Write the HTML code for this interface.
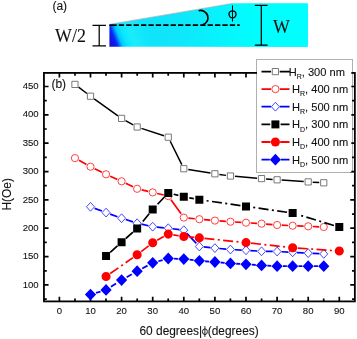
<!DOCTYPE html>
<html><head><meta charset="utf-8"><title>fig</title>
<style>
html,body{margin:0;padding:0;background:#fff;}
body{width:357px;height:339px;position:relative;overflow:hidden;font-family:"Liberation Sans",sans-serif;color:#111;}
</style></head><body>
<svg width="357" height="339" viewBox="0 0 357 339" style="position:absolute;left:0;top:0;will-change:transform">
<defs><linearGradient id="cg" gradientUnits="userSpaceOnUse" x1="108.8" y1="46.8" x2="145.9" y2="31.8"><stop offset="0" stop-color="#1c10d0"/><stop offset="0.12" stop-color="#1414e0"/><stop offset="0.21" stop-color="#0828f8"/><stop offset="0.27" stop-color="#0078ff"/><stop offset="0.33" stop-color="#00c8ff"/><stop offset="0.45" stop-color="#08e8ff"/><stop offset="0.62" stop-color="#1cecfc"/><stop offset="1" stop-color="#10e4fa"/></linearGradient><linearGradient id="cg2" x1="0" y1="0" x2="1" y2="0"><stop offset="0" stop-color="#00ffff" stop-opacity="0"/><stop offset="0.3" stop-color="#00ffff" stop-opacity="0"/><stop offset="0.75" stop-color="#00ffff"/><stop offset="1" stop-color="#00ffff"/></linearGradient></defs>
<path d="M109.4,24.6 L233,3.5 L307.8,3.5 L307.8,46.8 L109.4,46.8 Z" fill="url(#cg)"/>
<path d="M109.4,24.6 L233,3.5 L307.8,3.5 L307.8,46.8 L109.4,46.8 Z" fill="url(#cg2)"/>
<line x1="109.6" y1="24.3" x2="233" y2="3.3" stroke="#a8a0a0" stroke-width="0.6"/>
<line x1="109.4" y1="25.2" x2="116.7" y2="25.2" stroke="#000" stroke-width="1.7"/>
<line x1="118.8" y1="25.2" x2="239.7" y2="25.2" stroke="#000" stroke-width="1.7" stroke-dasharray="5.3,2.1"/>
<path d="M198.7,10.7 A7.25,7.25 0 1 1 202.6,24.8" fill="none" stroke="#000" stroke-width="1.7"/>
<ellipse cx="232.5" cy="14.3" rx="3.5" ry="3.5" fill="none" stroke="#000" stroke-width="1.3"/>
<line x1="232.5" y1="5.4" x2="232.5" y2="21.5" stroke="#000" stroke-width="1"/>
<path d="M92.5,25.3H106M99.2,25.3V45.8M92.5,45.8H106" stroke="#000" stroke-width="1.25" fill="none"/>
<path d="M254.8,5.3H267.6M261.3,5.3V45.2M254.8,45.2H267.6" stroke="#000" stroke-width="1.25" fill="none"/>
<rect x="256.5" y="59.5" width="96" height="113" fill="none" stroke="#b0b0b0" stroke-width="1"/>
<rect x="43.95" y="72.9" width="310.90000000000003" height="228.49999999999997" fill="none" stroke="#000" stroke-width="1.8"/>
<path d="M59.4,301.4v-4.6M59.4,72.9v4.6M75.0,301.4v-2.8M75.0,72.9v2.8M90.5,301.4v-4.6M90.5,72.9v4.6M106.0,301.4v-2.8M106.0,72.9v2.8M121.6,301.4v-4.6M121.6,72.9v4.6M137.2,301.4v-2.8M137.2,72.9v2.8M152.7,301.4v-4.6M152.7,72.9v4.6M168.2,301.4v-2.8M168.2,72.9v2.8M183.8,301.4v-4.6M183.8,72.9v4.6M199.3,301.4v-2.8M199.3,72.9v2.8M214.9,301.4v-4.6M214.9,72.9v4.6M230.4,301.4v-2.8M230.4,72.9v2.8M246.0,301.4v-4.6M246.0,72.9v4.6M261.6,301.4v-2.8M261.6,72.9v2.8M277.1,301.4v-4.6M277.1,72.9v4.6M292.6,301.4v-2.8M292.6,72.9v2.8M308.2,301.4v-4.6M308.2,72.9v4.6M323.7,301.4v-2.8M323.7,72.9v2.8M339.3,301.4v-4.6M339.3,72.9v4.6M43.95,299.1h2.8M354.85,299.1h-2.8M43.95,284.9h4.6M354.85,284.9h-4.6M43.95,270.8h2.8M354.85,270.8h-2.8M43.95,256.6h4.6M354.85,256.6h-4.6M43.95,242.4h2.8M354.85,242.4h-2.8M43.95,228.2h4.6M354.85,228.2h-4.6M43.95,214.1h2.8M354.85,214.1h-2.8M43.95,199.9h4.6M354.85,199.9h-4.6M43.95,185.7h2.8M354.85,185.7h-2.8M43.95,171.6h4.6M354.85,171.6h-4.6M43.95,157.4h2.8M354.85,157.4h-2.8M43.95,143.2h4.6M354.85,143.2h-4.6M43.95,129.0h2.8M354.85,129.0h-2.8M43.95,114.8h4.6M354.85,114.8h-4.6M43.95,100.7h2.8M354.85,100.7h-2.8M43.95,86.5h4.6M354.85,86.5h-4.6" stroke="#000" stroke-width="1.7" fill="none"/>
<rect x="257" y="60" width="94.3" height="112" fill="#fff"/>
<path d="M78.53,87.12L86.92,93.48M94.16,98.81L117.94,115.79M125.54,120.58L133.21,124.82M141.43,128.40L163.97,135.80M170.24,141.24L181.81,164.66M188.24,169.43L210.46,173.07M219.36,174.43L225.99,175.37M234.93,176.37L257.07,178.23M266.04,178.95L272.61,179.45M281.59,180.10L303.71,181.60M312.69,182.16L319.26,182.54" fill="none" stroke="#000" stroke-width="1.5"/>
<path d="M71.85,81.30h6.20v6.20h-6.20ZM87.40,93.10h6.20v6.20h-6.20ZM118.50,115.30h6.20v6.20h-6.20ZM134.05,123.90h6.20v6.20h-6.20ZM165.15,134.10h6.20v6.20h-6.20ZM180.70,165.60h6.20v6.20h-6.20ZM211.80,170.70h6.20v6.20h-6.20ZM227.35,172.90h6.20v6.20h-6.20ZM258.45,175.50h6.20v6.20h-6.20ZM274.00,176.70h6.20v6.20h-6.20ZM305.10,178.80h6.20v6.20h-6.20ZM320.65,179.70h6.20v6.20h-6.20Z" fill="#fff" stroke="#6a6a6a" stroke-width="0.9"/>
<path d="M78.98,160.33L86.47,164.47M94.63,168.72L101.92,172.28M110.24,176.19L117.41,179.41M125.74,183.30L133.01,186.80M141.63,189.84L148.22,191.36M157.18,193.46L163.77,195.04M170.95,199.83L181.10,213.87M188.38,218.07L194.77,218.73M203.93,219.61L210.32,220.19M219.49,220.92L225.86,221.38M235.04,222.00L241.41,222.40M250.59,223.00L256.96,223.40M266.13,224.08L272.52,224.62M281.70,225.21L288.05,225.49M297.25,225.88L303.60,226.12M312.80,226.51L319.15,226.79" fill="none" stroke="#f00" stroke-width="1.7"/>
<path d="M71.35,158.10a3.6,3.6 0 1 0 7.20,0a3.6,3.6 0 1 0 -7.20,0ZM86.90,166.70a3.6,3.6 0 1 0 7.20,0a3.6,3.6 0 1 0 -7.20,0ZM102.45,174.30a3.6,3.6 0 1 0 7.20,0a3.6,3.6 0 1 0 -7.20,0ZM118.00,181.30a3.6,3.6 0 1 0 7.20,0a3.6,3.6 0 1 0 -7.20,0ZM133.55,188.80a3.6,3.6 0 1 0 7.20,0a3.6,3.6 0 1 0 -7.20,0ZM149.10,192.40a3.6,3.6 0 1 0 7.20,0a3.6,3.6 0 1 0 -7.20,0ZM164.65,196.10a3.6,3.6 0 1 0 7.20,0a3.6,3.6 0 1 0 -7.20,0ZM180.20,217.60a3.6,3.6 0 1 0 7.20,0a3.6,3.6 0 1 0 -7.20,0ZM195.75,219.20a3.6,3.6 0 1 0 7.20,0a3.6,3.6 0 1 0 -7.20,0ZM211.30,220.60a3.6,3.6 0 1 0 7.20,0a3.6,3.6 0 1 0 -7.20,0ZM226.85,221.70a3.6,3.6 0 1 0 7.20,0a3.6,3.6 0 1 0 -7.20,0ZM242.40,222.70a3.6,3.6 0 1 0 7.20,0a3.6,3.6 0 1 0 -7.20,0ZM257.95,223.70a3.6,3.6 0 1 0 7.20,0a3.6,3.6 0 1 0 -7.20,0ZM273.50,225.00a3.6,3.6 0 1 0 7.20,0a3.6,3.6 0 1 0 -7.20,0ZM289.05,225.70a3.6,3.6 0 1 0 7.20,0a3.6,3.6 0 1 0 -7.20,0ZM304.60,226.30a3.6,3.6 0 1 0 7.20,0a3.6,3.6 0 1 0 -7.20,0ZM320.15,227.00a3.6,3.6 0 1 0 7.20,0a3.6,3.6 0 1 0 -7.20,0Z" fill="#fff" stroke="#ff2020" stroke-width="0.85"/>
<path d="M94.62,208.34L101.93,211.06M110.19,214.09L117.46,216.71M125.79,219.55L132.96,221.85M141.44,224.17L148.41,225.73M157.08,227.12L163.87,227.78M172.61,228.76L179.44,229.64M186.84,233.38L196.31,243.32M203.73,246.95L210.52,247.65M219.28,248.49L226.07,249.11M234.84,249.73L241.61,250.07M250.39,250.58L257.16,251.02M265.95,251.36L272.70,251.44M281.49,251.73L288.26,252.07M297.04,252.53L303.81,252.87M312.59,253.33L319.36,253.67" fill="none" stroke="#00f" stroke-width="1.7"/>
<path d="M86.50,206.80L90.50,202.40L94.50,206.80L90.50,211.20ZM102.05,212.60L106.05,208.20L110.05,212.60L106.05,217.00ZM117.60,218.20L121.60,213.80L125.60,218.20L121.60,222.60ZM133.15,223.20L137.15,218.80L141.15,223.20L137.15,227.60ZM148.70,226.70L152.70,222.30L156.70,226.70L152.70,231.10ZM164.25,228.20L168.25,223.80L172.25,228.20L168.25,232.60ZM179.80,230.20L183.80,225.80L187.80,230.20L183.80,234.60ZM195.35,246.50L199.35,242.10L203.35,246.50L199.35,250.90ZM210.90,248.10L214.90,243.70L218.90,248.10L214.90,252.50ZM226.45,249.50L230.45,245.10L234.45,249.50L230.45,253.90ZM242.00,250.30L246.00,245.90L250.00,250.30L246.00,254.70ZM257.55,251.30L261.55,246.90L265.55,251.30L261.55,255.70ZM273.10,251.50L277.10,247.10L281.10,251.50L277.10,255.90ZM288.65,252.30L292.65,247.90L296.65,252.30L292.65,256.70ZM304.20,253.10L308.20,248.70L312.20,253.10L308.20,257.50ZM319.75,253.90L323.75,249.50L327.75,253.90L323.75,258.30Z" fill="#fff" stroke="#2828ff" stroke-width="0.85"/>
<path d="M117.41,245.92L110.24,252.28M132.95,232.20L125.80,238.50M149.15,213.83L140.70,224.17M164.42,196.99L156.53,205.41M178.37,195.44L173.68,194.26M193.84,198.67L189.31,197.83M240.46,205.60L204.89,200.50M287.11,212.22L251.54,207.18M333.94,225.48L298.01,214.62" fill="none" stroke="#000" stroke-width="1.7" stroke-dasharray="10,3.4,2,3.4"/>
<path d="M102.05,252.00h8.00v8.00h-8.00ZM117.60,238.20h8.00v8.00h-8.00ZM133.15,224.50h8.00v8.00h-8.00ZM148.70,205.50h8.00v8.00h-8.00ZM164.25,188.90h8.00v8.00h-8.00ZM179.80,192.80h8.00v8.00h-8.00ZM195.35,195.70h8.00v8.00h-8.00ZM242.00,202.40h8.00v8.00h-8.00ZM288.65,209.00h8.00v8.00h-8.00ZM335.30,223.10h8.00v8.00h-8.00Z" fill="#000"/>
<path d="M110.23,273.57L132.97,257.63M141.20,251.60L148.65,245.90M157.15,240.31L163.80,236.59M173.29,234.88L178.76,235.72M188.88,236.96L194.27,237.44M204.42,238.41L240.93,242.09M251.07,243.15L287.58,247.15M297.74,248.06L334.21,250.64" fill="none" stroke="#f00" stroke-width="1.7" stroke-dasharray="10,3.4,2,3.4"/>
<path d="M101.50,276.50a4.55,4.55 0 1 0 9.10,0a4.55,4.55 0 1 0 -9.10,0ZM132.60,254.70a4.55,4.55 0 1 0 9.10,0a4.55,4.55 0 1 0 -9.10,0ZM148.15,242.80a4.55,4.55 0 1 0 9.10,0a4.55,4.55 0 1 0 -9.10,0ZM163.70,234.10a4.55,4.55 0 1 0 9.10,0a4.55,4.55 0 1 0 -9.10,0ZM179.25,236.50a4.55,4.55 0 1 0 9.10,0a4.55,4.55 0 1 0 -9.10,0ZM194.80,237.90a4.55,4.55 0 1 0 9.10,0a4.55,4.55 0 1 0 -9.10,0ZM241.45,242.60a4.55,4.55 0 1 0 9.10,0a4.55,4.55 0 1 0 -9.10,0ZM288.10,247.70a4.55,4.55 0 1 0 9.10,0a4.55,4.55 0 1 0 -9.10,0ZM334.75,251.00a4.55,4.55 0 1 0 9.10,0a4.55,4.55 0 1 0 -9.10,0Z" fill="#f00"/>
<path d="M96.05,292.92L100.50,291.58M110.96,286.81L116.69,283.19M126.63,277.22L132.12,274.08M142.25,268.44L147.60,265.56M158.29,261.25L162.66,260.05M174.05,258.72L178.00,258.88M189.57,259.73L193.58,260.17M205.13,261.25L209.12,261.55M220.68,262.52L224.67,262.88M236.24,263.74L240.21,263.96M251.79,264.71L255.76,264.99M267.34,265.70L271.31,265.90M282.90,266.20L286.85,266.20M298.45,266.20L302.40,266.20M314.00,266.20L317.95,266.20" fill="none" stroke="#00f" stroke-width="1.8" stroke-dasharray="6,2.6"/>
<path d="M84.90,294.60L90.50,288.70L96.10,294.60L90.50,300.50ZM100.45,289.90L106.05,284.00L111.65,289.90L106.05,295.80ZM116.00,280.10L121.60,274.20L127.20,280.10L121.60,286.00ZM131.55,271.20L137.15,265.30L142.75,271.20L137.15,277.10ZM147.10,262.80L152.70,256.90L158.30,262.80L152.70,268.70ZM162.65,258.50L168.25,252.60L173.85,258.50L168.25,264.40ZM178.20,259.10L183.80,253.20L189.40,259.10L183.80,265.00ZM193.75,260.80L199.35,254.90L204.95,260.80L199.35,266.70ZM209.30,262.00L214.90,256.10L220.50,262.00L214.90,267.90ZM224.85,263.40L230.45,257.50L236.05,263.40L230.45,269.30ZM240.40,264.30L246.00,258.40L251.60,264.30L246.00,270.20ZM255.95,265.40L261.55,259.50L267.15,265.40L261.55,271.30ZM271.50,266.20L277.10,260.30L282.70,266.20L277.10,272.10ZM287.05,266.20L292.65,260.30L298.25,266.20L292.65,272.10ZM302.60,266.20L308.20,260.30L313.80,266.20L308.20,272.10ZM318.15,266.20L323.75,260.30L329.35,266.20L323.75,272.10Z" fill="#00f"/>
<path d="M261.5,71.6H271.09999999999997M279.7,71.6H290" stroke="#000" stroke-width="1.8" fill="none"/>
<path d="M261.5,89.1H271.0M279.79999999999995,89.1H289.5" stroke="#f00" stroke-width="1.8" fill="none"/>
<path d="M261.5,106.7H271.09999999999997M279.7,106.7H289.5" stroke="#00f" stroke-width="1.8" fill="none"/>
<path d="M261.5,124.4H270.2M280.59999999999997,124.4H289.5" stroke="#000" stroke-width="1.8" fill="none"/>
<path d="M261.5,142.0H270.59999999999997M280.2,142.0H289.5" stroke="#f00" stroke-width="1.8" fill="none"/>
<path d="M261.5,159.7H269.79999999999995M281.0,159.7H289.5" stroke="#00f" stroke-width="1.8" fill="none"/>
<path d="M272.30,68.50h6.20v6.20h-6.20Z" fill="#fff" stroke="#6a6a6a" stroke-width="0.9"/>
<path d="M271.80,89.10a3.6,3.6 0 1 0 7.20,0a3.6,3.6 0 1 0 -7.20,0Z" fill="#fff" stroke="#ff2020" stroke-width="0.85"/>
<path d="M271.40,106.70L275.40,102.30L279.40,106.70L275.40,111.10Z" fill="#fff" stroke="#2828ff" stroke-width="0.85"/>
<path d="M271.40,120.40h8.00v8.00h-8.00Z" fill="#000"/>
<path d="M270.85,142.00a4.55,4.55 0 1 0 9.10,0a4.55,4.55 0 1 0 -9.10,0Z" fill="#f00"/>
<path d="M269.80,159.70L275.40,153.80L281.00,159.70L275.40,165.60Z" fill="#00f"/>
<text x="38.7" y="287.6" font-size="9.6" text-anchor="end" style="font-family:'Liberation Sans',sans-serif" fill="#111" stroke="#111" stroke-width="0.1">100</text>
<text x="38.7" y="259.2" font-size="9.6" text-anchor="end" style="font-family:'Liberation Sans',sans-serif" fill="#111" stroke="#111" stroke-width="0.1">150</text>
<text x="38.7" y="230.8" font-size="9.6" text-anchor="end" style="font-family:'Liberation Sans',sans-serif" fill="#111" stroke="#111" stroke-width="0.1">200</text>
<text x="38.7" y="202.5" font-size="9.6" text-anchor="end" style="font-family:'Liberation Sans',sans-serif" fill="#111" stroke="#111" stroke-width="0.1">250</text>
<text x="38.7" y="174.2" font-size="9.6" text-anchor="end" style="font-family:'Liberation Sans',sans-serif" fill="#111" stroke="#111" stroke-width="0.1">300</text>
<text x="38.7" y="145.8" font-size="9.6" text-anchor="end" style="font-family:'Liberation Sans',sans-serif" fill="#111" stroke="#111" stroke-width="0.1">350</text>
<text x="38.7" y="117.4" font-size="9.6" text-anchor="end" style="font-family:'Liberation Sans',sans-serif" fill="#111" stroke="#111" stroke-width="0.1">400</text>
<text x="38.7" y="89.1" font-size="9.6" text-anchor="end" style="font-family:'Liberation Sans',sans-serif" fill="#111" stroke="#111" stroke-width="0.1">450</text>
<text x="59.4" y="314.3" font-size="9.6" text-anchor="middle" style="font-family:'Liberation Sans',sans-serif" fill="#111" stroke="#111" stroke-width="0.1">0</text>
<text x="90.5" y="314.3" font-size="9.6" text-anchor="middle" style="font-family:'Liberation Sans',sans-serif" fill="#111" stroke="#111" stroke-width="0.1">10</text>
<text x="121.6" y="314.3" font-size="9.6" text-anchor="middle" style="font-family:'Liberation Sans',sans-serif" fill="#111" stroke="#111" stroke-width="0.1">20</text>
<text x="152.7" y="314.3" font-size="9.6" text-anchor="middle" style="font-family:'Liberation Sans',sans-serif" fill="#111" stroke="#111" stroke-width="0.1">30</text>
<text x="183.8" y="314.3" font-size="9.6" text-anchor="middle" style="font-family:'Liberation Sans',sans-serif" fill="#111" stroke="#111" stroke-width="0.1">40</text>
<text x="214.9" y="314.3" font-size="9.6" text-anchor="middle" style="font-family:'Liberation Sans',sans-serif" fill="#111" stroke="#111" stroke-width="0.1">50</text>
<text x="246.0" y="314.3" font-size="9.6" text-anchor="middle" style="font-family:'Liberation Sans',sans-serif" fill="#111" stroke="#111" stroke-width="0.1">60</text>
<text x="277.1" y="314.3" font-size="9.6" text-anchor="middle" style="font-family:'Liberation Sans',sans-serif" fill="#111" stroke="#111" stroke-width="0.1">70</text>
<text x="308.2" y="314.3" font-size="9.6" text-anchor="middle" style="font-family:'Liberation Sans',sans-serif" fill="#111" stroke="#111" stroke-width="0.1">80</text>
<text x="339.3" y="314.3" font-size="9.6" text-anchor="middle" style="font-family:'Liberation Sans',sans-serif" fill="#111" stroke="#111" stroke-width="0.1">90</text>
<text x="52.4" y="10.1" font-size="12" text-anchor="start" style="font-family:'Liberation Sans',sans-serif" fill="#111" stroke="#111" stroke-width="0.1">(a)</text>
<text x="51.4" y="87.8" font-size="12" text-anchor="start" style="font-family:'Liberation Sans',sans-serif" fill="#111" stroke="#111" stroke-width="0.1">(b)</text>
<text x="55.1" y="41.6" font-size="17.9" text-anchor="start" style="font-family:'Liberation Serif',serif" fill="#111" stroke="#111" stroke-width="0.1">W/2</text>
<text x="273.0" y="32.7" font-size="17.9" text-anchor="start" style="font-family:'Liberation Serif',serif" fill="#111" stroke="#111" stroke-width="0.1">W</text>
<text x="202.1" y="335.2" font-size="11.9" text-anchor="end" style="font-family:'Liberation Sans',sans-serif" fill="#111" stroke="#111" stroke-width="0.1">60 degrees|</text>
<text x="207.8" y="335.2" font-size="11.9" text-anchor="start" style="font-family:'Liberation Sans',sans-serif" fill="#111" stroke="#111" stroke-width="0.1">(degrees)</text>
<ellipse cx="204.9" cy="331.7" rx="2.45" ry="2.85" fill="none" stroke="#111" stroke-width="0.95"/>
<line x1="204.9" y1="326.1" x2="204.9" y2="336.9" stroke="#111" stroke-width="0.9"/>
<text x="0" y="0" font-size="11.9" text-anchor="start" style="font-family:'Liberation Sans',sans-serif" fill="#111" stroke="#111" stroke-width="0.1" transform="translate(11.3,210.5) rotate(-90)">H(Oe)</text>
<text x="288.7" y="75.6" font-size="11.1" text-anchor="start" style="font-family:'Liberation Sans',sans-serif" fill="#111" stroke="#111" stroke-width="0.1">H<tspan font-size="7" dy="3.1">R</tspan><tspan dy="-3.1">, 300 nm</tspan></text>
<text x="292.0" y="93.1" font-size="11.1" text-anchor="start" style="font-family:'Liberation Sans',sans-serif" fill="#111" stroke="#111" stroke-width="0.1">H<tspan font-size="7" dy="3.1">R</tspan><tspan dy="-3.1">, 400 nm</tspan></text>
<text x="292.0" y="110.7" font-size="11.1" text-anchor="start" style="font-family:'Liberation Sans',sans-serif" fill="#111" stroke="#111" stroke-width="0.1">H<tspan font-size="7" dy="3.1">R</tspan><tspan dy="-3.1">, 500 nm</tspan></text>
<text x="292.0" y="128.4" font-size="11.1" text-anchor="start" style="font-family:'Liberation Sans',sans-serif" fill="#111" stroke="#111" stroke-width="0.1">H<tspan font-size="7" dy="3.1">D</tspan><tspan dy="-3.1">, 300 nm</tspan></text>
<text x="292.0" y="146.0" font-size="11.1" text-anchor="start" style="font-family:'Liberation Sans',sans-serif" fill="#111" stroke="#111" stroke-width="0.1">H<tspan font-size="7" dy="3.1">D</tspan><tspan dy="-3.1">, 400 nm</tspan></text>
<text x="292.0" y="163.7" font-size="11.1" text-anchor="start" style="font-family:'Liberation Sans',sans-serif" fill="#111" stroke="#111" stroke-width="0.1">H<tspan font-size="7" dy="3.1">D</tspan><tspan dy="-3.1">, 500 nm</tspan></text>
</svg>
</body></html>
